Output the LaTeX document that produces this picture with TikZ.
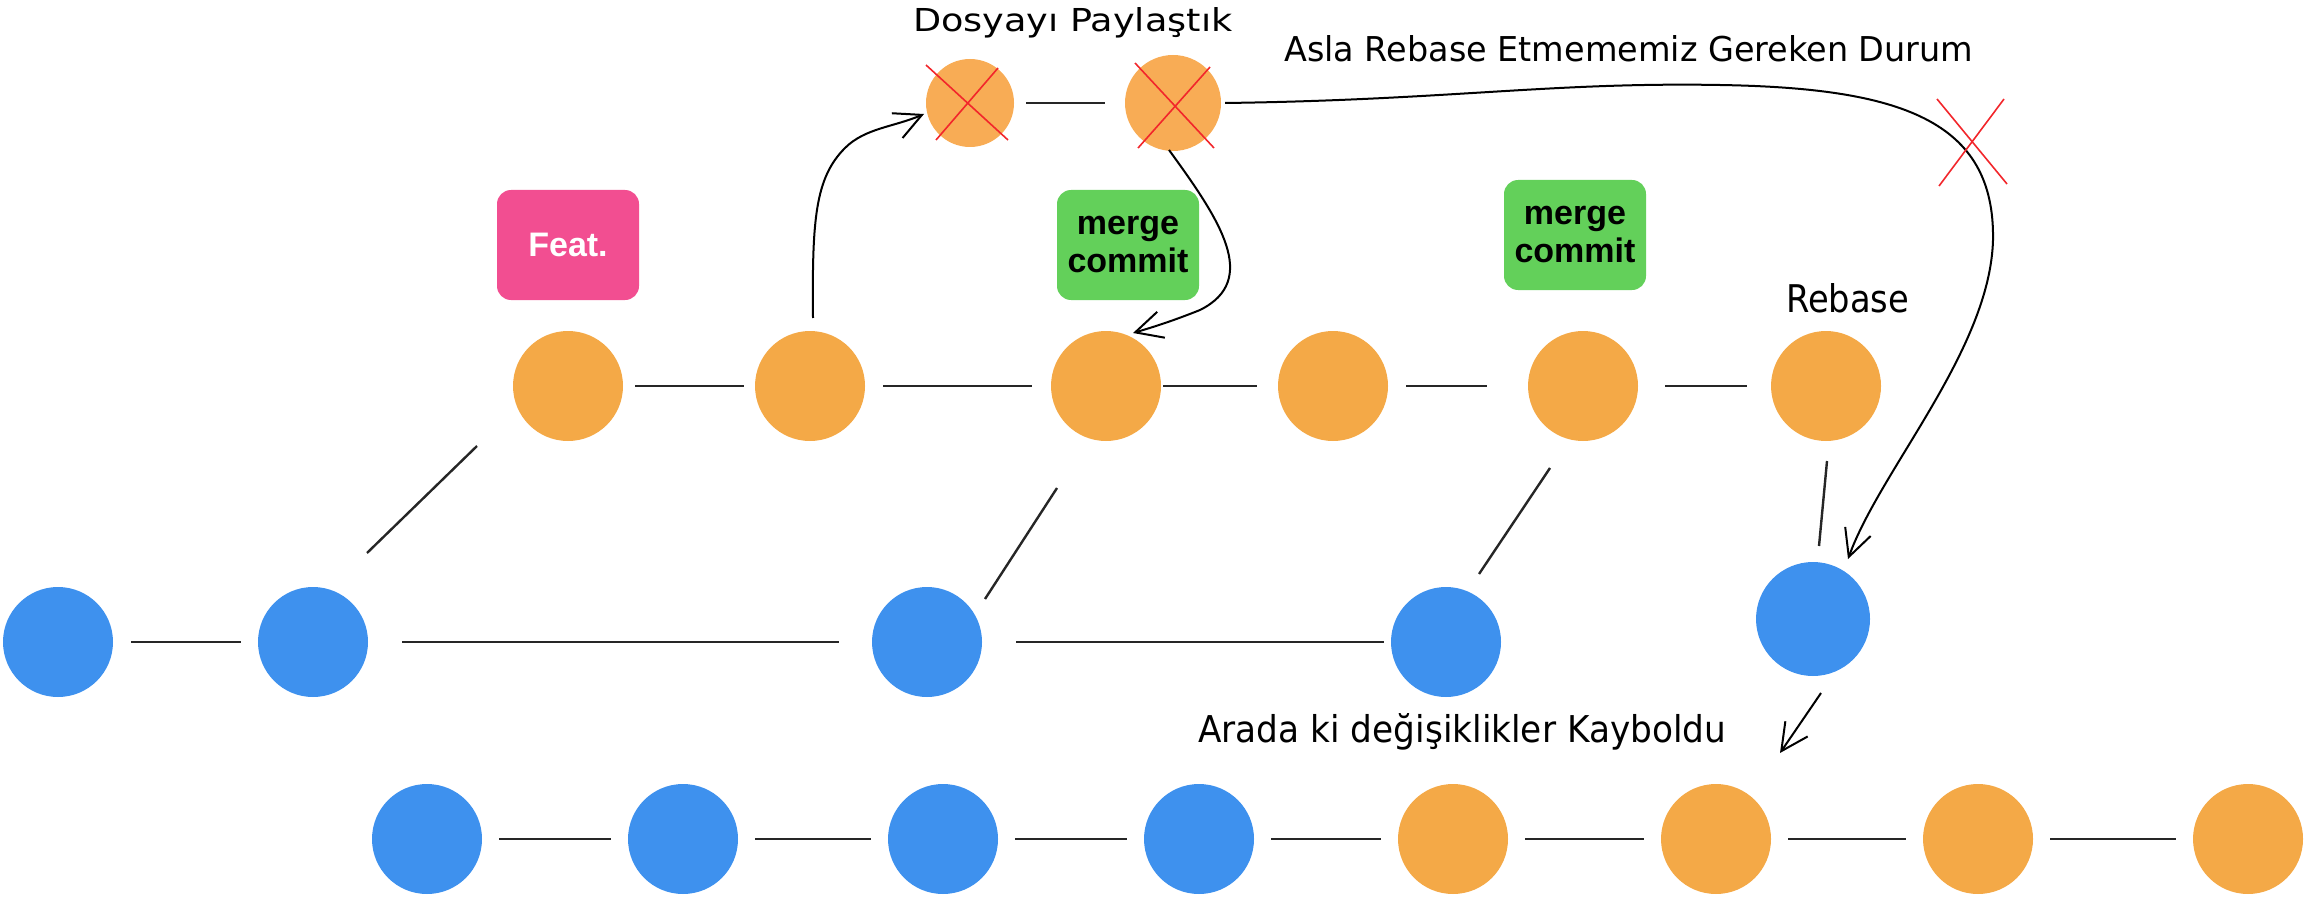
\documentclass[tikz,border=0pt]{standalone}
\usepackage{fontspec}
\setmainfont{Liberation Sans}
\newfontfamily\hand{DejaVu Sans}
\usetikzlibrary{arrows.meta,calc}
\definecolor{corange}{HTML}{F4A947}
\definecolor{corangel}{HTML}{F8AC55}
\definecolor{cblue}{HTML}{3E91EE}
\definecolor{cpink}{HTML}{F24E91}
\definecolor{cgreen}{HTML}{63D05A}
\definecolor{cred}{HTML}{F2262B}
\begin{document}
\begin{tikzpicture}[x=1pt,y=-1pt,
  commit/.style={circle,inner sep=0pt,minimum size=110pt,draw=none},
  oc/.style={commit,fill=corange},
  bc/.style={commit,fill=cblue},
  tag/.style={rounded corners=14pt,minimum width=142pt,minimum height=110pt,inner sep=0pt,
    font=\bfseries\fontsize{34}{38}\selectfont,align=center},
  link/.style={line width=2.4pt,color=black!85},
  flow/.style={line width=2pt,-{Straight Barb[length=27pt,width=27pt]}},
  cross/.style={line width=1.6pt,color=cred},
  note/.style={inner sep=0pt,anchor=base west,font=\hand}
]
\useasboundingbox (0,0) rectangle (2314,904);

% row 1 (orange)
\node[oc] (o1) at (568,386) {};
\node[oc] (o2) at (810,386) {};
\node[oc] (o3) at (1106,386) {};
\node[oc] (o4) at (1333,386) {};
\node[oc] (o5) at (1583,386) {};
\node[oc] (o6) at (1826,386) {};
% row 2 (blue)
\node[bc] (b1) at (58,642) {};
\node[bc] (b2) at (313,642) {};
\node[bc] (b3) at (927,642) {};
\node[bc] (b4) at (1446,642) {};
\node[commit,fill=cblue,minimum size=114pt] (r) at (1813,619) {};
% row 3
\node[bc] (b5) at (427,839) {};
\node[bc] (b6) at (683,839) {};
\node[bc] (b7) at (943,839) {};
\node[bc] (b8) at (1199,839) {};
\node[oc] (o7) at (1453,839) {};
\node[oc] (o8) at (1716,839) {};
\node[oc] (o9) at (1978,839) {};
\node[oc] (o10) at (2248,839) {};
% top (shared, crossed)
\node[commit,fill=corangel,minimum size=88pt] (c1) at (970,103) {};
\node[commit,fill=corangel,minimum size=96pt] (c2) at (1173,103) {};

% tags
\node[tag,fill=cpink,text=white] (feat) at (568,245) {Feat.};
\node[tag,fill=cgreen] (m1) at (1128,245) {merge\\commit};
\node[tag,fill=cgreen] (m2) at (1575,235) {merge\\commit};

% notes
\node[note] (t1) at (913,32) {\resizebox{319pt}{24pt}{Dosyayı Paylaştık}};
\node[note] (t2) at (1284,62) {\resizebox{689pt}{26pt}{Asla Rebase Etmememiz Gereken Durum}};
\node[note] (t3) at (1786,312) {\resizebox{123pt}{29pt}{Rebase}};
\node[note] (t4) at (1198,742) {\resizebox{528pt}{29pt}{Arada ki değişiklikler Kayboldu}};

% row 1 links
\draw[link,shorten <=12pt,shorten >=11pt] (o1) -- (o2);
\draw[link,shorten <=18pt,shorten >=19pt] (o2) -- (o3);
\draw[link,shorten <=2pt,shorten >=21pt] (o3) -- (o4);
\draw[link,shorten <=18pt,shorten >=41pt] (o4) -- (o5);
\draw[link,shorten <=27pt,shorten >=24pt] (o5) -- (o6);
% row 2 links
\draw[link,shorten <=18pt,shorten >=17pt] (b1) -- (b2);
\draw[link,shorten <=34pt,shorten >=33pt] (b2) -- (b3);
\draw[link,shorten <=34pt,shorten >=7pt] (b3) -- (b4);
% row 3 links
\foreach \a/\b in {b5/b6,b6/b7,b7/b8,b8/o7,o7/o8,o8/o9,o9/o10}
  \draw[link,shorten <=17pt,shorten >=17pt] (\a) -- (\b);
% diagonals
\draw[link] ($(b2)+(54,-89)$) -- ($(o1)+(-91,60)$);
\draw[link] ($(b3)+(58,-43)$) -- ($(o3)+(-49,102)$);
\draw[link] ($(b4)+(33,-68)$) -- ($(o5)+(-33,82)$);
\draw[link] ($(o6)+(1,75)$) -- ($(r)+(6,-73)$);
% top link
\draw[link,shorten <=12pt,shorten >=20pt] (c1.east) -- (c2.west);

% curved arrows
\draw[flow] ($(o2)+(3,-68)$) .. controls ($(o2)+(2,-166)$) and ($(o2)+(5,-208)$) .. ($(c1)+(-125,45)$)
   .. controls ($(c1)+(-105,25)$) and ($(c1)+(-76,24)$) .. ($(c1)+(-46,11)$);
\draw[flow] ($(c2)+(-4,47)$) .. controls ($(c2)+(47,117)$) and ($(c2)+(87,177)$) .. ($(c2)+(27,207)$)
   .. controls ($(c2)+(-3,219)$) and ($(c2)+(-23,225)$) .. ($(o3)+(27,-53)$);
\draw[flow] ($(c2)+(52,0)$) .. controls ($(c2)+(277,-3)$) and ($(c2)+(377,-21)$) .. ($(c2)+(547,-18)$)
   .. controls ($(c2)+(727,-15)$) and ($(c2)+(822,17)$) .. ($(c2)+(820,137)$)
   .. controls ($(c2)+(817,247)$) and ($(c2)+(707,367)$) .. ($(r)+(35,-60)$);
\draw[flow] ($(r)+(8,74)$) -- ($(r)+(-33,134)$);

% red crosses
\draw[cross] ($(c1)+(-44,-38)$) -- ($(c1)+(38,37)$);
\draw[cross] ($(c1)+(28,-35)$) -- ($(c1)+(-34,37)$);
\draw[cross] ($(c2)+(-38,-40)$) -- ($(c2)+(41,45)$);
\draw[cross] ($(c2)+(37,-36)$) -- ($(c2)+(-35,45)$);
\draw[cross] (1937,99) -- (2007,184);
\draw[cross] (2004,99) -- (1939,186);
\end{tikzpicture}
\end{document}
